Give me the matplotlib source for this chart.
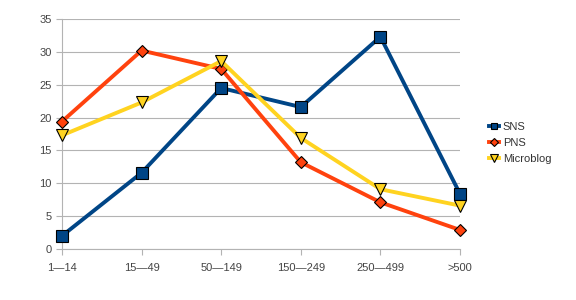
import matplotlib
matplotlib.use("Agg")
import matplotlib.pyplot as plt

categories = ["1—14", "15—49", "50—149", "150—249", "250—499", ">500"]
sns_vals = [2.0, 11.6, 24.5, 21.6, 32.3, 8.4]
pns_vals = [19.4, 30.2, 27.4, 13.2, 7.1, 2.9]
micro_vals = [17.3, 22.3, 28.6, 16.9, 9.1, 6.6]

plt.rcParams['font.family'] = ['Liberation Sans', 'DejaVu Sans']

fig = plt.figure(figsize=(5.76, 3.0), dpi=100)
ax = fig.add_axes([62/576, 1-249/300, (460-62)/576, (249-19)/300])

x = list(range(len(categories)))
ax.plot(x, sns_vals, color="#004586", lw=2.8, marker="s", ms=8,
        mfc="#004586", mec="black", mew=0.8, label="SNS", zorder=3, clip_on=False)
ax.plot(x, pns_vals, color="#ff420e", lw=2.8, marker="D", ms=6.5,
        mfc="#ff420e", mec="black", mew=0.8, label="PNS", zorder=4, clip_on=False)
ax.plot(x, micro_vals, color="#ffd320", lw=2.8, marker="v", ms=8.5,
        mfc="#ffd320", mec="black", mew=0.8, label="Microblog", zorder=5, clip_on=False)

ax.set_xlim(0, len(categories)-1)
ax.set_ylim(0, 35)
ax.set_yticks(range(0, 36, 5))
ax.set_xticks(x)
ax.set_xticklabels(categories)
ax.yaxis.grid(True, color="#b3b3b3", lw=0.8)
ax.set_axisbelow(True)
for s in ["top", "right"]:
    ax.spines[s].set_visible(False)
for s in ["left", "bottom"]:
    ax.spines[s].set_color("#b3b3b3")
    ax.spines[s].set_linewidth(0.8)
ax.tick_params(axis="both", colors="#b3b3b3", labelcolor="#444444",
               labelsize=8, length=4, width=0.8)
ax.tick_params(axis="x", pad=6)

leg = fig.legend(loc="center left", bbox_to_anchor=(485/576, 1-143/300),
                 frameon=False, fontsize=8, handlelength=0.9,
                 handletextpad=0.3, labelspacing=0.55, borderaxespad=0,
                 markerscale=0.6)
for t in leg.get_texts():
    t.set_color("#333333")

fig.savefig("out.png", dpi=100)
